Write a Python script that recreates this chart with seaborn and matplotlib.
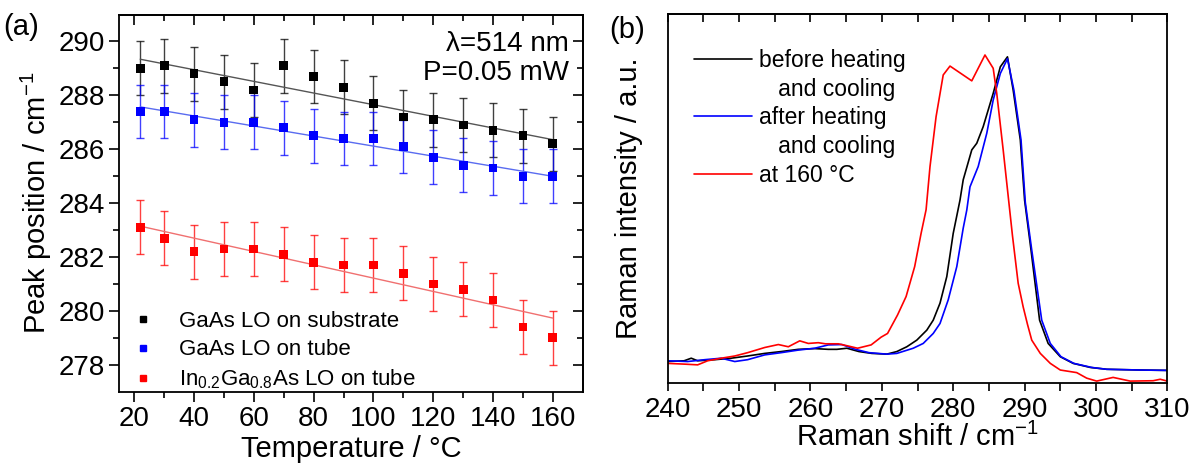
import matplotlib
matplotlib.use('Agg')
import matplotlib.pyplot as plt
from matplotlib.lines import Line2D
import seaborn as sns
import numpy as np
import pandas as pd

# (a) peak position vs temperature
temp = [22, 30, 40, 50, 60, 70, 80, 90, 100, 110, 120, 130, 140, 150, 160]
gaas_sub = [289.0, 289.1, 288.8, 288.5, 288.2, 289.1, 288.7, 288.3, 287.7, 287.2, 287.1, 286.9, 286.7, 286.5, 286.2]
gaas_tube = [287.4, 287.4, 287.1, 287.0, 287.0, 286.8, 286.5, 286.4, 286.4, 286.1, 285.7, 285.4, 285.3, 285.0, 285.0]
ingaas_tube = [283.1, 282.7, 282.2, 282.3, 282.3, 282.1, 281.8, 281.7, 281.7, 281.4, 281.0, 280.8, 280.4, 279.4, 279.0]
err = [1.0] * 15
series_a = ['GaAs LO on substrate', 'GaAs LO on tube', 'In$_{0.2}$Ga$_{0.8}$As LO on tube']

# (b) Raman spectra
x_before = [240, 242.3, 243.3, 244.2, 246.6, 248.9, 251.2, 253.6, 255.9, 258.3, 260.6, 262.5, 263.7, 265.1,
            266.8, 268.6, 270.7, 272.1, 273.5, 274.9, 276.3, 277.2, 278.15, 279.1, 280.0, 280.95, 281.4,
            282.6, 283.3, 284.2, 285.6, 286.6, 287.6, 288.4, 289.4, 290.0, 290.9, 292.1, 293.3, 295.0,
            296.8, 299.2, 301.5, 306.2, 310]
i_before = [0.059, 0.061, 0.068, 0.061, 0.064, 0.068, 0.074, 0.081, 0.086, 0.092, 0.094, 0.092, 0.092, 0.095,
            0.086, 0.081, 0.079, 0.086, 0.099, 0.117, 0.144, 0.171, 0.217, 0.289, 0.406, 0.496, 0.551,
            0.632, 0.650, 0.695, 0.785, 0.857, 0.884, 0.794, 0.659, 0.496, 0.361, 0.171, 0.108, 0.072,
            0.054, 0.043, 0.038, 0.036, 0.035]
x_after = [240, 242.8, 245.2, 247.5, 249.4, 251.2, 253.6, 255.9, 258.3, 260.6, 262.5, 264.4, 266.3, 268.2,
           270.7, 272.1, 274.4, 275.8, 277.2, 278.15, 279.3, 280.5, 281.4, 281.9, 282.35, 283.5, 284.7,
           285.6, 286.6, 287.6, 288.5, 289.5, 290.1, 291.0, 292.4, 293.6, 295.1, 296.9, 299.4, 301.5,
           306.2, 310]
i_after = [0.061, 0.059, 0.064, 0.068, 0.059, 0.064, 0.077, 0.083, 0.090, 0.095, 0.104, 0.105, 0.092, 0.083,
           0.079, 0.081, 0.095, 0.108, 0.135, 0.162, 0.226, 0.316, 0.42, 0.469, 0.532, 0.587, 0.677,
           0.767, 0.839, 0.879, 0.794, 0.659, 0.49, 0.361, 0.171, 0.108, 0.072, 0.054, 0.043, 0.038,
           0.036, 0.035]
x_hot = [240, 242.3, 244.2, 245.6, 247.5, 249.4, 251.2, 253.6, 255.5, 256.9, 258.5, 259.7, 261.1, 262.1,
         263.9, 265.3, 266.6, 268.5, 269.9, 270.8, 272.2, 273.4, 274.6, 275.5, 276.2, 276.75, 277.6,
         278.6, 279.55, 281.0, 282.6, 284.45, 285.6, 286.1, 287.0, 288.3, 289.1, 289.8, 290.4, 291.0,
         292.2, 293.6, 295.0, 297.3, 298.7, 300.1, 302.4, 304.8, 308.0, 309.0, 310]
i_hot = [0.054, 0.052, 0.050, 0.061, 0.068, 0.074, 0.083, 0.097, 0.105, 0.099, 0.115, 0.108, 0.110, 0.107,
         0.107, 0.101, 0.095, 0.104, 0.125, 0.135, 0.185, 0.235, 0.316, 0.406, 0.47, 0.587, 0.722,
         0.835, 0.859, 0.84, 0.819, 0.889, 0.853, 0.785, 0.632, 0.40, 0.271, 0.207, 0.16, 0.117,
         0.081, 0.054, 0.036, 0.029, 0.014, 0.006, 0.016, 0.006, 0.007, 0.011, 0.006]

colors = ['#000000', '#0000ff', '#ff0000']
fit_colors = ['#555555', '#5a6cf0', '#f07070']

sns.set_theme(style='ticks')
plt.rcParams['font.family'] = ['Liberation Sans', 'DejaVu Sans']
plt.rcParams['mathtext.default'] = 'regular'
plt.rcParams['axes.unicode_minus'] = False
plt.rcParams['axes.linewidth'] = 1.3
for k in ['text.color', 'axes.labelcolor', 'xtick.color', 'ytick.color', 'axes.edgecolor']:
    plt.rcParams[k] = 'black'

fig = plt.figure(figsize=(12, 4.73), dpi=100)
ax1 = fig.add_axes([0.0994, 0.1719, 0.3862, 0.7974])
ax2 = fig.add_axes([0.5564, 0.1896, 0.4164, 0.7808])

#Panel (a)
df = pd.DataFrame({'T': temp * 3,
                   'pos': gaas_sub + gaas_tube + ingaas_tube,
                   'err': err * 3,
                   'series': [series_a[0]] * 15 + [series_a[1]] * 15 + [series_a[2]] * 15})

for name, c, fc in zip(series_a, colors, fit_colors):
    d = df[df['series'] == name]
    ax1.errorbar(d['T'], d['pos'], yerr=d['err'], fmt='none', ecolor=c, elinewidth=1.0,
                 capsize=3, capthick=1.0, alpha=0.75)
    sns.regplot(x='T', y='pos', data=d, ax=ax1, scatter=False, ci=None,
                line_kws={'color': fc, 'lw': 1.0})
    sns.scatterplot(x='T', y='pos', data=d, ax=ax1, marker='s', color=c, s=40,
                    edgecolor='none', zorder=5, legend=False)

ax1.set_xlim(15, 170)
ax1.set_ylim(277, 291)
ax1.set_xticks(range(20, 161, 20))
ax1.set_xticks(range(30, 161, 20), minor=True)
ax1.set_yticks(range(278, 291, 2))
ax1.set_yticks(range(279, 291, 2), minor=True)
ax1.tick_params(which='major', direction='out', length=7, width=1.2, labelsize=20)
ax1.tick_params(which='minor', direction='out', length=4, width=1.2)
ax1.set_xlabel('Temperature / °C', fontsize=21, labelpad=2)
ax1.set_ylabel('Peak position / cm$^{-1}$', fontsize=21, labelpad=3)

top = ax1.secondary_xaxis('top')
top.set_xticks(range(20, 161, 20))
top.set_xticks(range(30, 161, 20), minor=True)
top.tick_params(which='major', direction='in', length=7, width=1.2, labeltop=False)
top.tick_params(which='minor', direction='in', length=4, width=1.2)
right = ax1.secondary_yaxis('right')
right.set_yticks(range(278, 291, 2))
right.set_yticks(range(279, 291, 2), minor=True)
right.tick_params(which='major', direction='in', length=7, width=1.2, labelright=False)
right.tick_params(which='minor', direction='in', length=4, width=1.2)

handles = [Line2D([], [], marker='s', ls='none', color=c, markersize=5) for c in colors]
ax1.legend(handles, series_a, loc='lower left', bbox_to_anchor=(-0.03, -0.04), frameon=False,
           fontsize=16, handletextpad=0.6, labelspacing=0.33, borderaxespad=0.3)
ax1.text(0.97, 0.955, 'λ=514 nm\nP=0.05 mW', transform=ax1.transAxes, ha='right', va='top',
         fontsize=20, linespacing=1.15)
fig.text(0.003, 0.943, '(a)', fontsize=21, ha='left', va='center')

#Panel (b)
sns.lineplot(x=x_before, y=i_before, ax=ax2, color=colors[0], lw=1.2, sort=False, estimator=None)
sns.lineplot(x=x_after, y=i_after, ax=ax2, color=colors[1], lw=1.2, sort=False, estimator=None)
sns.lineplot(x=x_hot, y=i_hot, ax=ax2, color=colors[2], lw=1.2, sort=False, estimator=None)
ax2.set_xlim(240, 310)
ax2.set_ylim(0, 1)
ax2.set_xticks(range(240, 311, 10))
ax2.set_xticks(range(245, 311, 10), minor=True)
ax2.set_yticks([])
ax2.tick_params(which='major', direction='out', length=6, width=1.2, labelsize=20)
ax2.tick_params(which='minor', direction='out', length=6, width=1.2)
ax2.set_xlabel('Raman shift / cm$^{-1}$', fontsize=21, labelpad=0)
ax2.set_ylabel('Raman intensity / a.u.', fontsize=21, labelpad=18)
top2 = ax2.secondary_xaxis('top')
top2.set_xticks(range(240, 311, 10))
top2.set_xticks(range(245, 311, 10), minor=True)
top2.tick_params(which='both', direction='in', length=6, width=1.2, labeltop=False)

blank = Line2D([], [], ls='none')
handles_b = [Line2D([], [], color=colors[0], lw=1.2), blank,
             Line2D([], [], color=colors[1], lw=1.2), blank,
             Line2D([], [], color=colors[2], lw=1.2)]
labels_b = ['before heating', '   and cooling', 'after heating', '   and cooling', 'at 160 °C']
ax2.legend(handles_b, labels_b, loc='upper left', bbox_to_anchor=(0.035, 0.93), frameon=False,
           fontsize=16.5, handlelength=2.5, handletextpad=0.3, labelspacing=0.25, borderaxespad=0)
fig.text(0.508, 0.937, '(b)', fontsize=21, ha='left', va='center')

plt.savefig('out.png', dpi=100)
